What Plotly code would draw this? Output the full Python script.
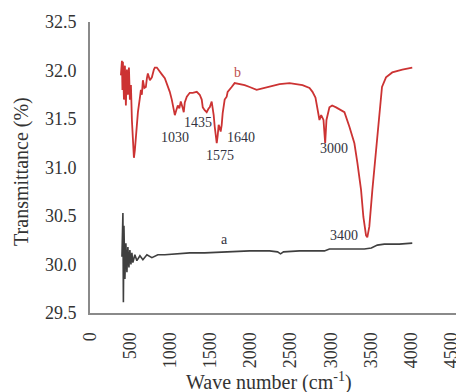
import plotly.graph_objects as go

# Curve b (red) : wavenumber (cm-1) and transmittance (%)
b_wavenumber = [385, 398, 404, 410, 423, 435, 447, 460, 472, 485, 497, 510, 522, 534, 547, 559, 572, 597,
                622, 634, 646, 659, 677, 696, 709, 721, 746, 771, 796, 808, 833, 870, 895, 932, 957, 970,
                994, 1019, 1038, 1057, 1075, 1094, 1113, 1131, 1156, 1168, 1181, 1206, 1243, 1280, 1330,
                1367, 1392, 1405, 1429, 1454, 1479, 1492, 1516, 1529, 1541, 1554, 1566, 1579, 1591, 1603,
                1616, 1628, 1641, 1653, 1678, 1703, 1715, 1740, 1765, 1802, 1865, 1927, 1989, 2076, 2175,
                2275, 2362, 2486, 2648, 2735, 2772, 2809, 2834, 2859, 2880, 2909, 2930, 2946, 2983, 3017,
                3066, 3129, 3170, 3232, 3294, 3331, 3377, 3406, 3439, 3455, 3480, 3518, 3564, 3605, 3638,
                3688, 3766, 3891, 3978, 4015]
b_transmittance = [31.95, 32.10, 31.80, 32.09, 31.70, 32.05, 31.64, 32.01, 31.75, 32.03, 31.70, 31.85, 31.49,
                   31.23, 31.10, 31.18, 31.34, 31.57, 31.72, 31.80, 31.75, 31.90, 31.82, 31.83, 31.92, 31.97,
                   31.90, 31.93, 32.01, 32.03, 32.03, 31.98, 31.96, 31.92, 31.87, 31.83, 31.78, 31.70, 31.61,
                   31.54, 31.59, 31.64, 31.61, 31.68, 31.61, 31.57, 31.67, 31.73, 31.77, 31.77, 31.78, 31.75,
                   31.70, 31.62, 31.59, 31.57, 31.61, 31.62, 31.68, 31.61, 31.54, 31.42, 31.30, 31.25, 31.33,
                   31.44, 31.41, 31.37, 31.44, 31.56, 31.70, 31.73, 31.78, 31.80, 31.83, 31.87, 31.86, 31.85,
                   31.83, 31.80, 31.82, 31.84, 31.86, 31.87, 31.85, 31.82, 31.78, 31.72, 31.62, 31.49, 31.54,
                   31.49, 31.25, 31.49, 31.62, 31.64, 31.62, 31.59, 31.57, 31.42, 31.25, 31.05, 30.77, 30.49,
                   30.30, 30.28, 30.39, 30.77, 31.18, 31.56, 31.83, 31.93, 31.98, 32.01, 32.02, 32.03]

# Curve a (dark grey)
a_wavenumber = [398, 410, 416, 423, 435, 447, 460, 472, 485, 497, 510, 522, 534, 559, 584, 622, 659, 709,
                771, 845, 932, 1057, 1243, 1429, 1678, 1989, 2237, 2337, 2374, 2411, 2610, 2859, 2921, 2983,
                3232, 3418, 3505, 3580, 3667, 3853, 4015]
a_transmittance = [30.08, 30.53, 29.61, 30.40, 29.85, 30.22, 29.92, 30.18, 29.97, 30.15, 30.00, 30.12, 30.02,
                   30.10, 30.04, 30.09, 30.05, 30.10, 30.07, 30.10, 30.10, 30.11, 30.12, 30.12, 30.13, 30.14,
                   30.14, 30.13, 30.11, 30.13, 30.14, 30.14, 30.14, 30.16, 30.16, 30.16, 30.17, 30.20, 30.21,
                   30.21, 30.22]

# Peak labels
peak_text = ["1030", "1435", "1575", "1640", "3000", "3400", "b", "a"]
peak_x = [1065, 1340, 1615, 1885, 3035, 3170, 1840, 1670]
peak_y = [31.31, 31.46, 31.12, 31.31, 31.20, 30.30, 31.98, 30.26]

x_ticks = [0, 500, 1000, 1500, 2000, 2500, 3000, 3500, 4000, 4500]
y_ticks = [29.5, 30.0, 30.5, 31.0, 31.5, 32.0, 32.5]

x_title = "Wave number (cm<sup>-1</sup>)"
y_title = "Transmittance (%)"

FONT = "Liberation Serif"
TXT = "#333333"

fig = go.Figure()
fig.add_trace(go.Scatter(x=a_wavenumber, y=a_transmittance, mode="lines",
                         line=dict(color="#3f3f3f", width=1.6), showlegend=False, hoverinfo="skip"))
fig.add_trace(go.Scatter(x=b_wavenumber, y=b_transmittance, mode="lines",
                         line=dict(color="#cc3333", width=1.8), showlegend=False, hoverinfo="skip"))

for t, x, y in zip(peak_text, peak_x, peak_y):
    col = "#c0504d" if t == "b" else "#333340"
    fig.add_annotation(x=x, y=y, text=t, showarrow=False, xanchor="center", yanchor="middle",
                       font=dict(family=FONT, size=14, color=col))

fig.add_annotation(xref="paper", yref="paper", x=0.49, y=-0.237, text=x_title, showarrow=False,
                   xanchor="center", yanchor="middle", font=dict(family=FONT, size=20, color=TXT))
fig.add_annotation(xref="paper", yref="paper", x=-0.186, y=0.488, text=y_title, showarrow=False,
                   textangle=-90, xanchor="center", yanchor="middle",
                   font=dict(family=FONT, size=20, color=TXT))

fig.update_layout(
    width=456, height=392,
    margin=dict(l=90, r=0, t=22, b=79),
    paper_bgcolor="white", plot_bgcolor="white",
    font=dict(family=FONT, color=TXT),
    xaxis=dict(range=[0, 4560], tickvals=x_ticks, ticktext=[str(v) for v in x_ticks],
               tickangle=-90, tickfont=dict(family=FONT, size=18, color=TXT),
               showline=True, linecolor="#8a8a8a", linewidth=2, showgrid=False, zeroline=False,
               ticks="", ticklabelstandoff=10, automargin=False, ticklabeloverflow="allow"),
    yaxis=dict(range=[29.5, 32.5], tickvals=y_ticks, ticktext=[f"{v:.1f}" for v in y_ticks],
               tickfont=dict(family=FONT, size=18, color=TXT),
               showline=True, linecolor="#8a8a8a", linewidth=2, showgrid=False, zeroline=False,
               ticks="", ticklabelstandoff=8, automargin=False),
)

fig.write_html("out.html", config={"displayModeBar": False},
               post_script="document.body.style.margin='0';document.body.style.overflow='hidden';")
